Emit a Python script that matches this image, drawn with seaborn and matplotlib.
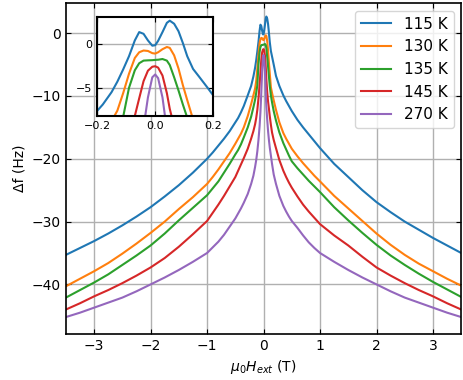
import numpy as np
import pandas as pd
import matplotlib
matplotlib.use('Agg')
import matplotlib.pyplot as plt
import seaborn as sns

# field values (T), shared by all temperatures
field = [-3.5, -3.25, -3.0, -2.75, -2.5, -2.25, -2.0, -1.75, -1.5, -1.25, -1.0, -0.9, -0.8,
         -0.7, -0.6, -0.5, -0.45, -0.4, -0.35,
         -0.28, -0.22, -0.18, -0.15, -0.13, -0.11, -0.09, -0.07, -0.055, -0.04, -0.025,
         -0.01, 0.0, 0.01, 0.025, 0.04, 0.05, 0.065, 0.08, 0.095, 0.11, 0.13, 0.15, 0.18,
         0.22, 0.28,
         0.35, 0.4, 0.45, 0.5, 0.6, 0.7, 0.8, 0.9, 1.0, 1.25, 1.5, 1.75, 2.0, 2.25, 2.5,
         2.75, 3.0, 3.25, 3.5]

df_115 = [-35.3, -34.2, -33.1, -31.9, -30.6, -29.2, -27.7, -26.0, -24.2, -22.2, -20.0, -19.0, -17.9,
          -16.8, -15.6, -14.2, -13.5, -12.6, -11.6,
          -9.9, -8.4, -6.9, -5.5, -4.3, -2.9, -1.4, 0.4, 1.35, 1.15, 0.4,
          -0.2, -0.15, 0.35, 1.35, 2.4, 2.65, 2.3, 1.45, 0.1, -1.4, -2.85, -3.7, -5.0,
          -6.8, -8.4,
          -9.9, -10.8, -11.6, -12.4, -13.8, -15.0, -16.1, -17.2, -18.3, -20.8, -22.9, -25.0, -26.9, -28.5, -30.0,
          -31.3, -32.6, -33.8, -35.0]

df_130 = [-40.3, -39.1, -37.9, -36.6, -35.1, -33.5, -31.8, -30.0, -28.0, -26.1, -24.0, -22.9, -21.7,
          -20.4, -19.1, -17.6, -16.8, -16.0, -15.0,
          -13.2, -11.3, -9.9, -8.8, -7.6, -5.6, -3.4, -1.6, -0.95, -0.75, -0.8,
          -1.05, -1.1, -0.95, -0.6, -0.35, -0.45, -1.3, -2.8, -4.7, -6.4, -8.6, -9.5, -10.7,
          -12.2, -14.2,
          -15.9, -16.8, -17.6, -18.4, -19.6, -20.7, -21.7, -22.7, -23.6, -25.9, -27.9, -29.9, -31.9, -33.7, -35.3,
          -36.7, -37.9, -39.1, -40.2]

df_135 = [-42.1, -40.9, -39.7, -38.4, -36.9, -35.4, -33.8, -31.9, -29.8, -27.8, -25.8, -24.7, -23.6,
          -22.2, -20.8, -19.3, -18.6, -17.7, -16.6,
          -15.0, -13.3, -11.8, -10.6, -9.5, -8.3, -5.0, -3.0, -2.2, -1.9, -1.87,
          -1.85, -1.82, -1.8, -1.72, -1.9, -2.4, -3.8, -5.3, -6.9, -8.4, -9.9, -11.0, -12.4,
          -13.9, -15.8,
          -17.5, -18.5, -19.5, -20.4, -21.5, -22.5, -23.5, -24.4, -25.3, -27.7, -29.8, -31.8, -33.7, -35.4, -36.9,
          -38.3, -39.6, -40.8, -42.0]

df_145 = [-44.0, -43.0, -41.9, -40.9, -39.8, -38.6, -37.3, -35.8, -34.0, -32.0, -29.9, -28.6, -27.3,
          -25.9, -24.4, -22.9, -21.9, -20.9, -19.9,
          -18.4, -16.8, -15.6, -14.5, -13.5, -12.2, -10.4, -8.2, -6.2, -4.24, -3.05,
          -2.6, -2.54, -2.7, -3.6, -5.6, -7.4, -9.4, -10.9, -12.0, -13.2, -14.6, -15.8, -17.0,
          -18.3, -20.2,
          -21.9, -22.9, -23.8, -24.6, -26.0, -27.3, -28.4, -29.4, -30.4, -32.2, -33.8, -35.6, -37.3, -38.6, -39.8,
          -40.9, -41.9, -43.0, -44.0]

df_270 = [-45.2, -44.5, -43.7, -42.9, -42.1, -41.1, -40.0, -38.9, -37.7, -36.4, -35.0, -34.1, -33.2,
          -32.1, -30.8, -29.5, -28.7, -27.9, -27.0,
          -25.6, -24.0, -22.7, -21.3, -20.2, -18.8, -17.0, -14.8, -12.5, -9.5, -6.1,
          -3.8, -3.48, -3.9, -6.1, -9.8, -11.8, -13.8, -15.6, -17.0, -18.2, -19.5, -20.8, -22.5,
          -24.0, -25.9,
          -27.5, -28.4, -29.2, -29.9, -31.0, -32.2, -33.3, -34.2, -35.0, -36.4, -37.7, -38.9, -40.0, -41.1, -42.1,
          -42.9, -43.7, -44.5, -45.2]

temps = ['115 K', '130 K', '135 K', '145 K', '270 K']
colors = ['#1f77b4', '#ff7f0e', '#2ca02c', '#d62728', '#9467bd']

series = [df_115, df_130, df_135, df_145, df_270]
data = pd.concat([pd.DataFrame({'B': field, 'df': s, 'T': t}) for s, t in zip(series, temps)],
                 ignore_index=True)

plt.rcParams['xtick.direction'] = 'in'
plt.rcParams['ytick.direction'] = 'in'
plt.rcParams['xtick.top'] = True
plt.rcParams['ytick.right'] = True

fig = plt.figure(figsize=(4.64, 3.80), dpi=100)
ax = fig.add_axes([0.142, 0.121, 0.852, 0.871])

sns.lineplot(data=data, x='B', y='df', hue='T', hue_order=temps, palette=colors,
             estimator=None, sort=False, linewidth=1.5, ax=ax)
ax.set_xlim(-3.5, 3.5)
ax.set_ylim(-47.9, 4.8)
ax.set_xticks([-3, -2, -1, 0, 1, 2, 3])
ax.set_yticks([0, -10, -20, -30, -40])
ax.grid(True, color='#b0b0b0', linewidth=1.0)
ax.set_axisbelow(True)
ax.set_xlabel(r'$\mu_0 H_{ext}$ (T)')
ax.set_ylabel('Δf (Hz)')
for sp in ax.spines.values():
    sp.set_linewidth(1.2)
sns.move_legend(ax, 'upper right', title=None, fontsize=11)

# inset: zoom on the low-field region
axin = fig.add_axes([0.209, 0.695, 0.251, 0.261])
sns.lineplot(data=data, x='B', y='df', hue='T', hue_order=temps, palette=colors,
             estimator=None, sort=False, linewidth=1.5, legend=False, ax=axin)
axin.set_xlim(-0.2, 0.2)
axin.set_ylim(-8.2, 3.1)
axin.set_xticks([-0.2, 0.0, 0.2])
axin.set_yticks([0, -5])
axin.tick_params(labelsize=8)
axin.grid(True, color='#b0b0b0', linewidth=1.0)
axin.set_xlabel('')
axin.set_ylabel('')
for sp in axin.spines.values():
    sp.set_linewidth(1.5)

fig.savefig('out.png', dpi=100)
